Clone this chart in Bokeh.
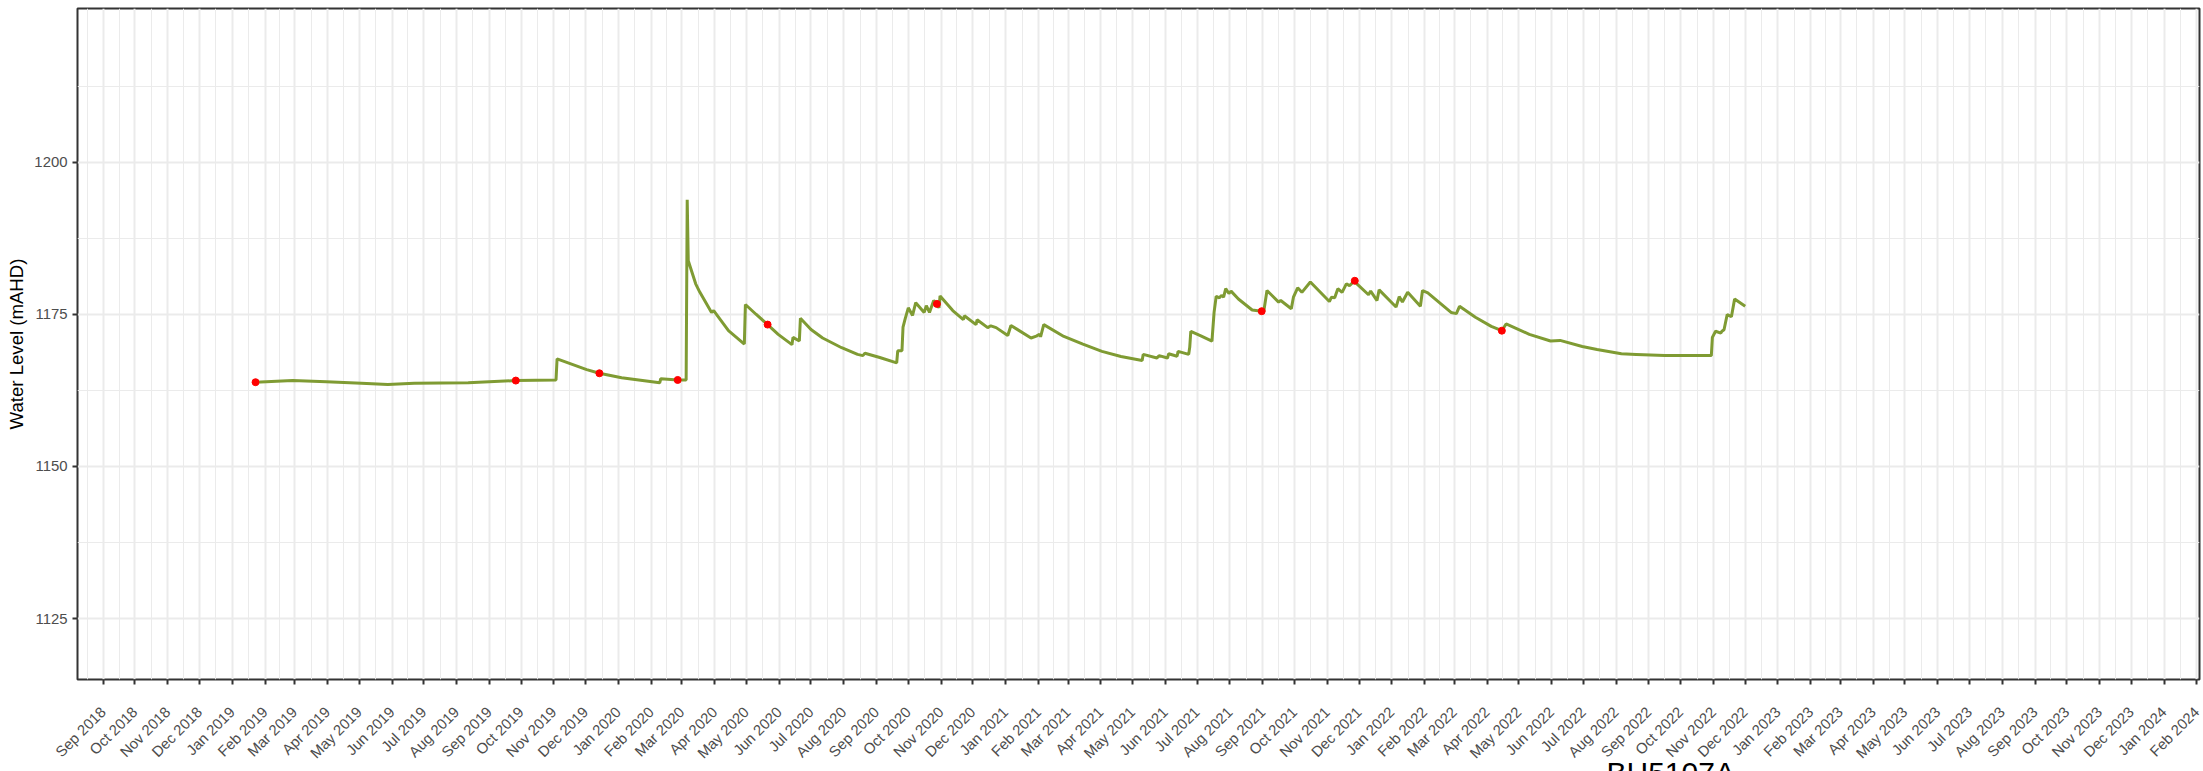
import math
import pandas as pd
from bokeh.plotting import figure
from bokeh.models import FixedTicker, Range1d, Title, DatetimeTickFormatter
from bokeh.embed import file_html
from bokeh.resources import INLINE

# ---------------- data ----------------
logger_dates = [
    "2019-01-23", "2019-02-27", "2019-03-31", "2019-05-03", "2019-05-28", "2019-06-22",
    "2019-08-12", "2019-09-26", "2019-11-03", "2019-11-04", "2019-12-02", "2019-12-14",
    "2020-01-04", "2020-02-09", "2020-02-10", "2020-02-26", "2020-03-05", "2020-03-06",
    "2020-03-07", "2020-03-14", "2020-03-18", "2020-03-29", "2020-03-31", "2020-04-14",
    "2020-04-29", "2020-04-30", "2020-05-10", "2020-05-21", "2020-05-31", "2020-06-13",
    "2020-06-14", "2020-06-20", "2020-06-21", "2020-07-01", "2020-07-12", "2020-07-30",
    "2020-08-14", "2020-08-19", "2020-08-21", "2020-09-04", "2020-09-20", "2020-09-21",
    "2020-09-25", "2020-09-26", "2020-09-28", "2020-10-01", "2020-10-05", "2020-10-08",
    "2020-10-16", "2020-10-18", "2020-10-21", "2020-10-25", "2020-10-28", "2020-10-30",
    "2020-10-31", "2020-11-12", "2020-11-22", "2020-11-23", "2020-12-04", "2020-12-05",
    "2020-12-15", "2020-12-18", "2020-12-23", "2021-01-03", "2021-01-06", "2021-01-25",
    "2021-01-30", "2021-02-02", "2021-02-03", "2021-02-06", "2021-02-25", "2021-03-15",
    "2021-04-02", "2021-04-20", "2021-05-10", "2021-05-11", "2021-05-24", "2021-05-26",
    "2021-06-03", "2021-06-04", "2021-06-12", "2021-06-13", "2021-06-23", "2021-06-24",
    "2021-06-25", "2021-07-04", "2021-07-15", "2021-07-17", "2021-07-19", "2021-07-22",
    "2021-07-24", "2021-07-26", "2021-07-28", "2021-07-31", "2021-08-02", "2021-08-09",
    "2021-08-22", "2021-08-31", "2021-09-02", "2021-09-05", "2021-09-16", "2021-09-18",
    "2021-09-28", "2021-09-30", "2021-10-04", "2021-10-08", "2021-10-16", "2021-11-03",
    "2021-11-05", "2021-11-08", "2021-11-11", "2021-11-15", "2021-11-19", "2021-11-22",
    "2021-11-27", "2021-11-29", "2021-12-10", "2021-12-12", "2021-12-18", "2021-12-20",
    "2022-01-05", "2022-01-08", "2022-01-11", "2022-01-16", "2022-01-28", "2022-01-30",
    "2022-02-04", "2022-02-26", "2022-03-03", "2022-03-06", "2022-03-21", "2022-04-05",
    "2022-04-15", "2022-04-19", "2022-05-11", "2022-05-31", "2022-06-09", "2022-06-30",
    "2022-07-14", "2022-08-06", "2022-08-20", "2022-09-16", "2022-10-30", "2022-10-31",
    "2022-11-03", "2022-11-08", "2022-11-09", "2022-11-11", "2022-11-14", "2022-11-18",
    "2022-11-21", "2022-12-01",
]
logger_levels = [
    1163.83, 1164.10, 1163.90, 1163.67, 1163.45, 1163.67,
    1163.73, 1164.10, 1164.20, 1167.67, 1165.90, 1165.30,
    1164.55, 1163.73, 1164.40, 1164.20, 1164.20, 1193.80,
    1183.80, 1180.00, 1178.60, 1175.30, 1175.60, 1172.30,
    1170.10, 1176.60, 1175.00, 1173.30, 1171.70, 1170.00,
    1171.20, 1170.60, 1174.35, 1172.50, 1171.10, 1169.50,
    1168.40, 1168.20, 1168.60, 1167.90, 1167.00, 1169.00,
    1169.00, 1172.90, 1174.25, 1176.05, 1174.80, 1176.90,
    1175.30, 1176.40, 1175.30, 1177.25, 1176.70, 1176.05,
    1178.00, 1175.60, 1174.10, 1174.75, 1173.30, 1174.10,
    1172.80, 1173.10, 1172.80, 1171.50, 1173.15, 1171.10,
    1171.40, 1171.70, 1171.30, 1173.30, 1171.35, 1170.10,
    1168.90, 1168.05, 1167.40, 1168.40, 1167.80, 1168.20,
    1167.80, 1168.50, 1168.10, 1168.90, 1168.40, 1169.60,
    1172.20, 1171.50, 1170.60, 1175.30, 1177.96, 1177.70,
    1178.10, 1177.80, 1179.20, 1178.40, 1178.80, 1177.50,
    1175.70, 1175.50, 1175.50, 1178.90, 1177.00, 1177.25,
    1175.90, 1177.80, 1179.35, 1178.60, 1180.30, 1177.10,
    1177.80, 1177.70, 1179.20, 1178.60, 1180.00, 1179.70,
    1180.50, 1180.00, 1178.20, 1178.80, 1177.25, 1179.00,
    1176.20, 1177.90, 1177.00, 1178.60, 1176.30, 1178.90,
    1178.50, 1175.30, 1175.10, 1176.30, 1174.50, 1173.00,
    1172.30, 1173.40, 1171.70, 1170.60, 1170.70, 1169.70,
    1169.20, 1168.50, 1168.40, 1168.20, 1168.20, 1171.20,
    1172.20, 1171.90, 1172.20, 1172.45, 1174.95, 1174.60,
    1177.50, 1176.30,
]
obs_dates = ["2019-01-23", "2019-09-26", "2019-12-14", "2020-02-26", "2020-05-21",
             "2020-10-28", "2021-08-31", "2021-11-27", "2022-04-15"]
obs_levels = [1163.83, 1164.10, 1165.30, 1164.20, 1173.30,
              1176.70, 1175.50, 1180.50, 1172.30]

month_labels = [
    "Sep 2018", "Oct 2018", "Nov 2018", "Dec 2018", "Jan 2019", "Feb 2019", "Mar 2019",
    "Apr 2019", "May 2019", "Jun 2019", "Jul 2019", "Aug 2019", "Sep 2019", "Oct 2019",
    "Nov 2019", "Dec 2019", "Jan 2020", "Feb 2020", "Mar 2020", "Apr 2020", "May 2020",
    "Jun 2020", "Jul 2020", "Aug 2020", "Sep 2020", "Oct 2020", "Nov 2020", "Dec 2020",
    "Jan 2021", "Feb 2021", "Mar 2021", "Apr 2021", "May 2021", "Jun 2021", "Jul 2021",
    "Aug 2021", "Sep 2021", "Oct 2021", "Nov 2021", "Dec 2021", "Jan 2022", "Feb 2022",
    "Mar 2022", "Apr 2022", "May 2022", "Jun 2022", "Jul 2022", "Aug 2022", "Sep 2022",
    "Oct 2022", "Nov 2022", "Dec 2022", "Jan 2023", "Feb 2023", "Mar 2023", "Apr 2023",
    "May 2023", "Jun 2023", "Jul 2023", "Aug 2023", "Sep 2023", "Oct 2023", "Nov 2023",
    "Dec 2023", "Jan 2024", "Feb 2024",
]
y_ticks = [1125, 1150, 1175, 1200]
y_minor = [1137.5, 1162.5, 1187.5, 1212.5]
x_limits = ["2018-08-07 17:00", "2024-02-03 10:00"]
y_limits = [1114.98, 1225.24]
y_title = "Water Level (mAHD)"
caption = "BH5107A"

# ---------------- build ----------------
def ms(s):
    return pd.Timestamp(s).timestamp() * 1000.0

ld = pd.to_datetime(logger_dates)
od = pd.to_datetime(obs_dates)
major = [pd.to_datetime(m, format="%b %Y").timestamp() * 1000.0 for m in month_labels]
minor = [major[0] - (major[1] - major[0]) / 2.0] + [(a + b) / 2.0 for a, b in zip(major[:-1], major[1:])]

p = figure(width=2203, height=771, x_axis_type="datetime",
           output_backend="svg", toolbar_location=None,
           x_range=Range1d(ms(x_limits[0]), ms(x_limits[1])),
           y_range=Range1d(y_limits[0], y_limits[1]),
           min_border_left=77, min_border_right=4, min_border_top=8, min_border_bottom=92)

p.background_fill_color = "white"
p.border_fill_color = "white"
p.outline_line_color = "#333333"
p.outline_line_width = 2

p.xaxis.ticker = FixedTicker(ticks=major, minor_ticks=minor)
p.yaxis.ticker = FixedTicker(ticks=y_ticks, minor_ticks=y_minor)
for g in (p.xgrid, p.ygrid):
    g.grid_line_color = "#EBEBEB"
    g.grid_line_width = 2
    g.minor_grid_line_color = "#EBEBEB"
    g.minor_grid_line_width = 1

p.xaxis.formatter = DatetimeTickFormatter(
    milliseconds="%b %Y", seconds="%b %Y", minsec="%b %Y", minutes="%b %Y",
    hourmin="%b %Y", hours="%b %Y", days="%b %Y", months="%b %Y", years="%b %Y")

for ax in (p.xaxis, p.yaxis):
    ax.axis_line_color = None
    ax.major_tick_line_color = "#333333"
    ax.major_tick_line_width = 2
    ax.major_tick_out = 5
    ax.major_tick_in = 0
    ax.minor_tick_line_color = None
    ax.major_label_text_color = "#4D4D4D"
    ax.major_label_text_font = "Liberation Sans"
    ax.major_label_text_font_size = "14.9px"

p.xaxis.major_label_orientation = math.pi / 4
p.xaxis.major_label_standoff = 25
p.yaxis.major_label_standoff = 5
p.yaxis.axis_label = y_title
p.yaxis.axis_label_text_font = "Liberation Sans"
p.yaxis.axis_label_text_font_size = "18.6px"
p.yaxis.axis_label_text_font_style = "normal"
p.yaxis.axis_label_text_color = "black"
p.yaxis.axis_label_standoff = 4

p.line(ld, logger_levels, line_color="#7f9b33", line_width=3)
p.scatter(od, obs_levels, size=7, fill_color="red", line_color="red")

# large caption below the chart, mostly running off the bottom edge
p.add_layout(Title(text=caption, align="left", offset=1529, standoff=-36,
                   vertical_align="bottom", text_font="Liberation Sans",
                   text_font_size="30px", text_font_style="normal",
                   text_color="black"), "below")

open("out.html", "w").write(file_html(p, INLINE))
